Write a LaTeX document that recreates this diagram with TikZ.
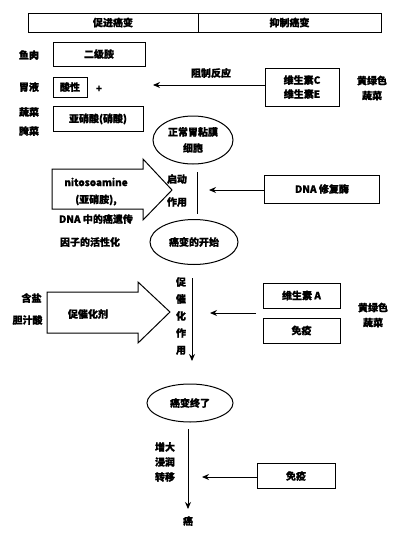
\documentclass[tikz,border=0pt]{standalone}
\usepackage{fontspec}
\setmainfont{Noto Sans CJK SC}[FakeBold=1]
\usetikzlibrary{arrows.meta,shapes.geometric}
\begin{document}
\begin{tikzpicture}[x=1pt,y=-1pt,
  line width=1pt,
  every node/.style={font=\fontsize{10}{12}\selectfont\bfseries},
  txt/.style={inner sep=0pt,align=center},
  boxn/.style={draw,rectangle,inner sep=0pt,align=center},
  ell/.style={draw,ellipse,inner sep=0pt,align=center},
  arr/.style={-{Stealth[length=7pt,width=6pt]}},
  blk/.style={line width=1pt}]
\useasboundingbox (0,0) rectangle (410,538);
% header
\node[boxn,minimum width=170pt,minimum height=19pt] (hl) at (113,22.5) {促进癌变};
\node[boxn,minimum width=183pt,minimum height=19pt] (hr) at (289.5,22.5) {抑制癌变};
% left labels
\node[txt] (l1) at (29,55) {鱼肉};
\node[txt] (l2) at (29,87) {胃液};
\node[txt] (l3) at (29,112) {蔬菜};
\node[txt] (l4) at (29,131) {腌菜};
\node[boxn,minimum width=92pt,minimum height=24pt] (b1) at (99,54) {二级胺};
\node[boxn,minimum width=34pt,minimum height=20pt] (b2) at (70,87) {酸性};
\node[txt] (plus) at (99,89) {+};
\node[boxn,minimum width=90pt,minimum height=25pt] (b3) at (98,119) {亚硝酸(硝酸)};
% vitamin C/E
\node[boxn,minimum width=74pt,minimum height=38pt] (vc) at (302,87) {维生素C\\[2pt]维生素E};
\node[txt] (g1) at (372,88) {黄绿色\\[3pt]蔬菜};
\coordinate (a1) at (153,85);
\draw[arr] (vc.west |- a1) -- (a1);
\node[txt] (zr) at (211,73) {阻制反应};
% ellipse 1
\node[ell,minimum width=80pt,minimum height=48pt] (e1) at (193,140) {正常胃粘膜\\[4pt]细胞};
% big arrow 1
\draw[blk] (52,169) -- (143,169) -- (143,159) -- (172,190) -- (143,220) -- (143,209) -- (52,209) -- cycle;
\node[txt] (n1) at (96,182) {nitosoamine};
\node[txt] (n2) at (96,200) {(亚硝胺),};
\node[txt] (n3) at (96,219) {DNA 中的癌遗传};
\node[txt] (n4) at (90,242) {因子的活性化};
% start line
\coordinate (s1) at (197,172);
\coordinate (s2) at (197,214);
\draw (s1) -- (s2);
\node[txt] (qd1) at (177,179) {启动};
\node[txt] (qd2) at (177,202) {作用};
% DNA repair
\node[boxn,minimum width=115pt,minimum height=28pt] (dna) at (322,189) {DNA 修复酶};
\coordinate (a2) at (209,190);
\draw[arr] (dna.west |- a2) -- (a2);
% ellipse 2
\node[ell,minimum width=88pt,minimum height=45pt] (e2) at (194,242) {癌变的开始};
% big arrow 2
\draw[blk] (47,292) -- (138,292) -- (138,282) -- (170,312) -- (138,343) -- (138,333) -- (47,333) -- cycle;
\node[txt] (c1) at (88,314) {促催化剂};
\node[txt,anchor=east] (c2) at (42,298) {含盐};
\node[txt,anchor=east] (c3) at (43,320) {胆汁酸};
% promotion arrow
\coordinate (p1) at (192,278);
\coordinate (p2) at (192,361);
\draw[arr] (p1) -- (p2);
\node[txt] (pc) at (181,316) {促\\[5pt]催\\[5pt]化\\[5pt]作\\[5pt]用};
% vit A / immune
\node[boxn,minimum width=77pt,minimum height=25pt] (va) at (301.5,295.5) {维生素 A};
\node[boxn,minimum width=77pt,minimum height=25pt] (im1) at (301.5,330.5) {免疫};
\node[txt] (g2) at (373,315) {黄绿色\\[3pt]蔬菜};
\coordinate (a3) at (210,313);
\coordinate (a3s) at (256,313);
\draw[arr] (a3s) -- (a3);
% ellipse 3
\node[ell,minimum width=86pt,minimum height=38pt] (e3) at (190,403) {癌变终了};
\coordinate (q1) at (188,429);
\coordinate (q2) at (188,509);
\draw[arr] (q1) -- (q2);
\node[txt] (z1) at (165,462) {增大\\[3pt]浸润\\[3pt]转移};
\node[txt] (ca) at (188,521) {癌};
% immune 2
\node[boxn,minimum width=78pt,minimum height=25pt] (im2) at (296,476) {免疫};
\coordinate (a4) at (202,477);
\draw[arr] (im2.west |- a4) -- (a4);
\end{tikzpicture}
\end{document}
